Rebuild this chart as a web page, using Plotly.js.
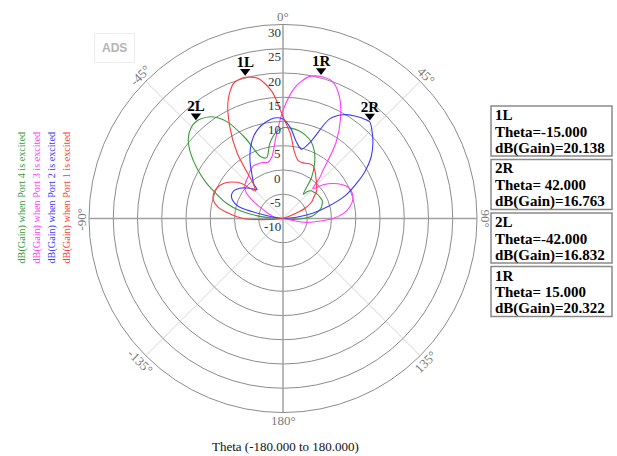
<!DOCTYPE html>
<html>
<head>
<meta charset="utf-8">
<script src="https://cdn.plot.ly/plotly-3.0.1.min.js"></script>
<style>
  html, body { margin: 0; padding: 0; background: #ffffff; }
  #chart { width: 617px; height: 456px; }
</style>
</head>
<body>
<div id="chart"></div>
<script>
// Far-field sweep angles (degrees, 0 = broadside, clockwise positive)
const THETA = [-100, -95, -90, -85, -80, -75, -70, -65, -60, -55, -50, -45, -42, -40, -35, -30, -25, -20, -15, -10, -5,
               0, 5, 10, 15, 20, 25, 30, 35, 40, 42, 45, 50, 55, 60, 65, 70, 75, 80, 85, 90, 95, 100, 105];

// dB(Gain) for each excited port (values at or below -10 dB sit on the plot floor)
const GAIN_PORT1 = [-10, -7.5, -1.8, 1.0, 3.6, 4.9, 5.2, 5.0, 4.3, 3.1, 1.3, -2.0, -1.2, -0.2, 6.5, 12.0, 16.8, 19.7, 20.138, 19.3, 16.3,
                    11.0, 7.5, 3.8, 2.3, 2.2, 2.5, 2.5, 1.6, 0.6, 0.3, -0.2, -0.9, -2.2, -3.2, -5.0, -8.5, -10, -10, -10, -10, -10, -10, -10];
const GAIN_PORT2 = [-10, -10, -10, -9.5, -6.5, -0.5, 1.1, 1.7, 1.6, 0.9, -0.2, -1.4, -2.0, -0.6, 1.2, 3.6, 5.9, 7.9, 9.3, 10.2, 10.8,
                    10.5, 8.6, 6.0, 4.8, 7.0, 12.6, 14.7, 15.8, 16.6, 16.763, 15.9, 14.2, 12.2, 9.6, 6.5, 3.6, -0.3, -3.8, -7.5, -10, -10, -10, -10];
const GAIN_PORT3 = [-10, -10, -10, -9.0, -8.0, -7.5, -6.5, -5.2, -3.0, -0.8, 0.3, 0.8, 1.0, 1.2, 1.9, 2.4, 2.4, 2.3, 2.0, 3.0, 6.8,
                    12.3, 17.0, 19.6, 20.322, 20.0, 17.6, 13.7, 9.0, 2.7, 1.3, -1.3, 0.8, 2.6, 4.0, 5.0, 5.2, 4.9, 4.0, 2.6, 0.3, -3.0, -5.5, -10];
const GAIN_PORT4 = [-10, -10, -9.5, -5.5, -1.2, 2.0, 4.5, 7.5, 10.4, 13.2, 15.5, 16.7, 16.832, 16.7, 15.6, 13.0, 8.2, 3.6, 3.0, 5.7, 7.7,
                    8.7, 8.7, 8.4, 7.8, 6.9, 5.3, 3.0, 0.2, -3.5, -2.5, -1.9, -1.6, -1.3, -1.2, -1.1, -1.4, -1.9, -2.8, -3.9, -5.8, -8.0, -10, -10];

// Marker readouts
const MARKER_NAMES = ['1L', '2R', '2L', '1R'];
const MARKER_THETA = [-15, 42, -42, 15];
const MARKER_GAIN = [20.138, 16.763, 16.832, 20.322];

// Axis ticks
const RADIAL_RANGE = [-10, 30];
const RADIAL_TICKS = [-10, -5, 0, 5, 10, 15, 20, 25, 30];
const ANGLE_TICKS = [0, 45, 90, 135, 180, -135, -90, -45];

// Trace legend (left column order)
const LEGEND_TEXT = ['dB(Gain) when Port 4 is excited', 'dB(Gain) when Port 3 is excited',
                     'dB(Gain) when Port 2 is excited', 'dB(Gain) when Port 1 is excited'];

const W = 617, H = 456;
const CX = 283, CY = 218.5, R = 194;           // polar plot centre and radius, px
const SERIF = '"Liberation Serif", "Times New Roman", serif';
const COLORS = { p1: '#ff3b3b', p2: '#3b3bff', p3: '#ff3bff', p4: '#3a9a3a' };

const domain = {
  x: [(CX - R) / W, (CX + R) / W],
  y: [(H - CY - R) / H, (H - CY + R) / H]
};
const px = (x) => x / W;
const py = (y) => (H - y) / H;

function curve(r, color) {
  return {
    type: 'scatterpolar', subplot: 'polar2', mode: 'lines',
    r: r, theta: THETA, line: { color: color, width: 1.1, shape: 'spline', smoothing: 0.8 },
    hoverinfo: 'skip'
  };
}

const traces = [
  { type: 'scatterpolar', subplot: 'polar', r: [], theta: [], mode: 'lines', hoverinfo: 'skip' },
  curve(GAIN_PORT4, COLORS.p4),
  curve(GAIN_PORT3, COLORS.p3),
  curve(GAIN_PORT2, COLORS.p2),
  curve(GAIN_PORT1, COLORS.p1),
  {
    type: 'scatterpolar', subplot: 'polar2', mode: 'markers+text',
    r: MARKER_GAIN, theta: MARKER_THETA, text: MARKER_NAMES,
    textposition: 'top center',
    textfont: { family: SERIF, size: 15, color: '#000', weight: 'bold' },
    marker: { symbol: 'triangle-up', size: 9, color: '#000', angle: 180, standoff: 6 },
    cliponaxis: false, hoverinfo: 'skip'
  }
];

const annotations = [];
const shapes = [];

// Radial tick labels, set just under each ring on the left of the 0° spoke
RADIAL_TICKS.forEach((v) => {
  const dist = (v - RADIAL_RANGE[0]) / (RADIAL_RANGE[1] - RADIAL_RANGE[0]) * R;
  annotations.push({
    xref: 'paper', yref: 'paper', showarrow: false,
    x: px(CX - 0.5), y: py(CY - dist + 8), xanchor: 'right', yanchor: 'middle',
    text: String(v), font: { family: SERIF, size: 13, color: '#333333' }
  });
});

// Angle labels, written along the circle
ANGLE_TICKS.forEach((a) => {
  const t = a * Math.PI / 180;
  const lr = 202;
  let rot = a;
  if (rot > 90) rot -= 180;
  if (rot < -90) rot += 180;
  annotations.push({
    xref: 'paper', yref: 'paper', showarrow: false,
    x: px(CX + lr * Math.sin(t)), y: py(CY - lr * Math.cos(t)),
    xanchor: 'center', yanchor: 'middle', textangle: rot,
    text: a + '°', font: { family: SERIF, size: 13, color: '#7a7a7a' }
  });
});

// Rotated legend entries
const legendColors = [COLORS.p4, COLORS.p3, COLORS.p2, COLORS.p1];
const legendX = [21, 36, 51, 66];
LEGEND_TEXT.forEach((txt, i) => {
  annotations.push({
    xref: 'paper', yref: 'paper', showarrow: false,
    x: px(legendX[i]), y: py(197.5), xanchor: 'center', yanchor: 'middle',
    textangle: -90, text: txt, font: { family: SERIF, size: 10.2, color: legendColors[i] }
  });
});

// Marker readout boxes
const fmt = (v) => (v < 0 ? '-' : ' ') + Math.abs(v).toFixed(3);
const boxTop = [106, 159.5, 213, 266.5];
MARKER_NAMES.forEach((name, i) => {
  const top = boxTop[i];
  shapes.push({
    type: 'rect', xref: 'paper', yref: 'paper', layer: 'below',
    x0: px(491), x1: px(612), y0: py(top), y1: py(top + 50),
    line: { color: '#8a8a8a', width: 1.5 }, fillcolor: '#ffffff'
  });
  const lines = [name, 'Theta=' + fmt(MARKER_THETA[i]), 'dB(Gain)=' + MARKER_GAIN[i].toFixed(3)];
  const offs = [9, 25.7, 42.4];
  lines.forEach((ln, j) => {
    annotations.push({
      xref: 'paper', yref: 'paper', showarrow: false,
      x: px(492.5), y: py(top + offs[j]), xanchor: 'left', yanchor: 'middle',
      text: ln, font: { family: SERIF, size: 15, color: '#000', weight: 'bold' }
    });
  });
});

// Logo
annotations.push({
  xref: 'paper', yref: 'paper', showarrow: false,
  x: px(114), y: py(48), xanchor: 'center', yanchor: 'middle',
  text: 'ADS', font: { family: '"Liberation Sans", Arial, sans-serif', size: 12, color: '#b4b4b4', weight: 'bold' },
  bordercolor: '#ececec', borderwidth: 1, borderpad: 7
});

// Sweep caption
annotations.push({
  xref: 'paper', yref: 'paper', showarrow: false,
  x: px(285), y: py(446), xanchor: 'center', yanchor: 'middle',
  text: 'Theta (-180.000 to 180.000)', font: { family: SERIF, size: 13, color: '#111' }
});

const layout = {
  width: W, height: H,
  margin: { l: 0, r: 0, t: 0, b: 0 },
  paper_bgcolor: '#ffffff',
  showlegend: false,
  polar: {
    domain: domain,
    bgcolor: '#ffffff',
    angularaxis: {
      rotation: 90, direction: 'clockwise', thetaunit: 'degrees',
      tickvals: [45, 135, 225, 315], showticklabels: false, ticks: '',
      gridcolor: '#d4d4d4', gridwidth: 1,
      showline: true, linecolor: '#8c8c8c', linewidth: 1
    },
    radialaxis: {
      range: RADIAL_RANGE, tickvals: RADIAL_TICKS, showticklabels: false,
      angle: 90, showline: false, ticks: '',
      gridcolor: '#8c8c8c', gridwidth: 1
    }
  },
  polar2: {
    domain: domain,
    bgcolor: 'rgba(0,0,0,0)',
    angularaxis: {
      rotation: 90, direction: 'clockwise', thetaunit: 'degrees',
      tickvals: [0, 90, 180, 270], showticklabels: false, ticks: '',
      gridcolor: '#a0a0a0', gridwidth: 1.5, showline: false
    },
    radialaxis: {
      range: RADIAL_RANGE, showgrid: false, showticklabels: false, showline: false, ticks: ''
    }
  },
  annotations: annotations,
  shapes: shapes
};

Plotly.newPlot('chart', traces, layout, { staticPlot: true, displayModeBar: false });
</script>
</body>
</html>
